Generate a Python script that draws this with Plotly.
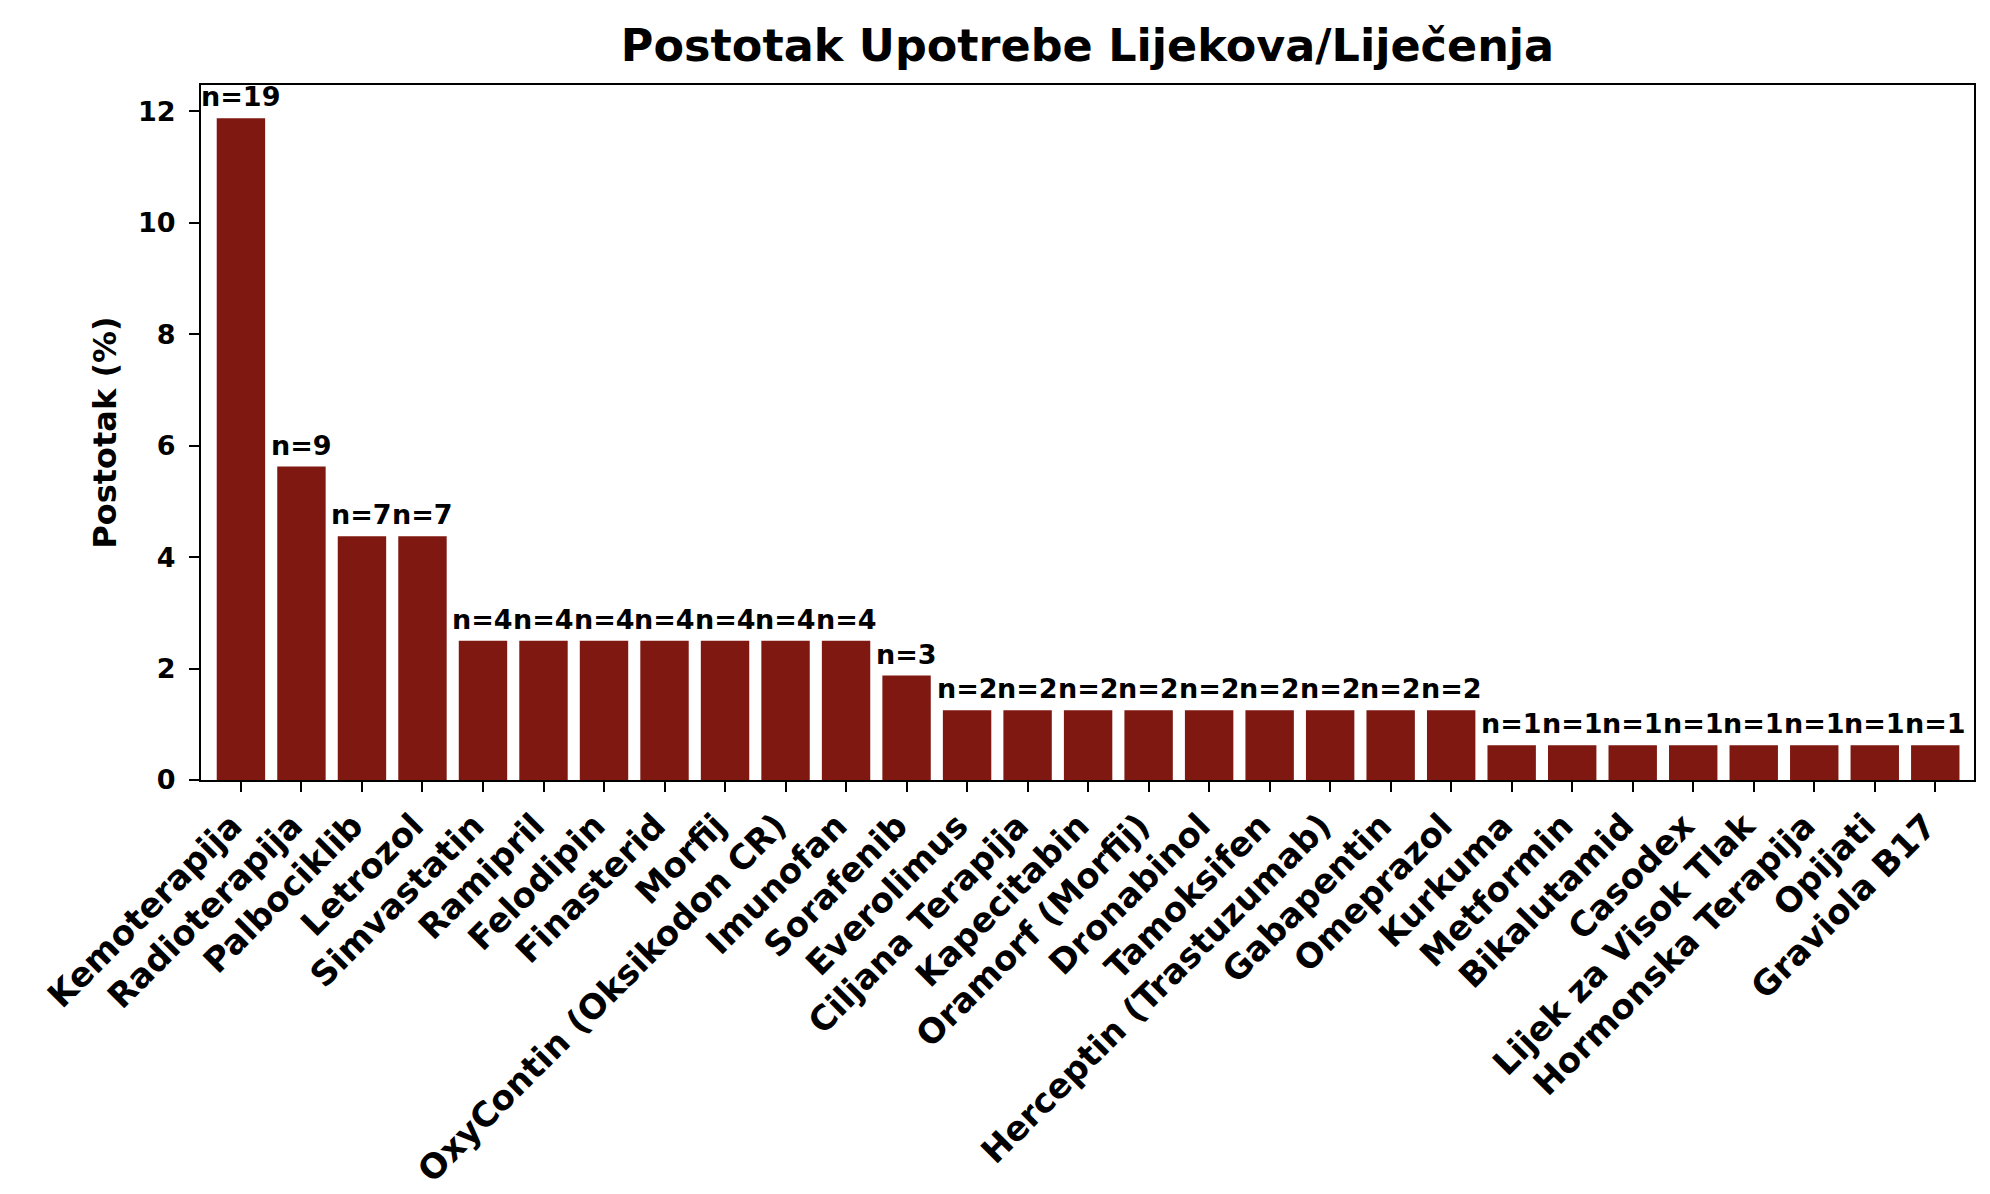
import plotly.graph_objects as go

# lijekovi / liječenja, sortirano po broju
lijekovi = [
    "Kemoterapija", "Radioterapija", "Palbociklib", "Letrozol", "Simvastatin",
    "Ramipril", "Felodipin", "Finasterid", "Morfij", "OxyContin (Oksikodon CR)",
    "Imunofan", "Sorafenib", "Everolimus", "Ciljana Terapija", "Kapecitabin",
    "Oramorf (Morfij)", "Dronabinol", "Tamoksifen", "Herceptin (Trastuzumab)",
    "Gabapentin", "Omeprazol", "Kurkuma", "Metformin", "Bikalutamid", "Casodex",
    "Lijek za Visok Tlak", "Hormonska Terapija", "Opijati", "Graviola B17",
]

broj = [19, 9, 7, 7, 4, 4, 4, 4, 4, 4, 4, 3,
        2, 2, 2, 2, 2, 2, 2, 2, 2,
        1, 1, 1, 1, 1, 1, 1, 1]

postotak = [11.875, 5.625, 4.375, 4.375, 2.5, 2.5, 2.5, 2.5, 2.5, 2.5, 2.5, 1.875,
            1.25, 1.25, 1.25, 1.25, 1.25, 1.25, 1.25, 1.25, 1.25,
            0.625, 0.625, 0.625, 0.625, 0.625, 0.625, 0.625, 0.625]

y_ticks = [0, 2, 4, 6, 8, 10, 12]

FONT = "DejaVu Sans"
BOJA = "#7f1811"

fig = go.Figure()
fig.add_trace(go.Bar(
    x=lijekovi,
    y=postotak,
    width=0.8,
    marker=dict(color=BOJA, line=dict(width=0)),
))

# oznake n=.. iznad stupaca
for naziv, p, n in zip(lijekovi, postotak, broj):
    fig.add_annotation(
        x=naziv, y=p, text=f"n={n}",
        showarrow=False, yanchor="bottom", yshift=4,
        font=dict(family=FONT, size=27, color="black", weight="bold"),
    )

fig.update_layout(
    width=1990,
    height=1194,
    plot_bgcolor="white",
    paper_bgcolor="white",
    showlegend=False,
    margin=dict(l=193, r=24, t=77, b=422),
    title=dict(
        text="Postotak Upotrebe Lijekova/Liječenja",
        x=0.5, xref="paper", xanchor="center",
        y=1 - 37 / 1194, yref="container", yanchor="middle",
        font=dict(family=FONT, size=44.5, color="black", weight="bold"),
    ),
)

fig.update_xaxes(
    type="category",
    range=[-0.66, len(lijekovi) - 1 + 0.64],
    tickangle=-45,
    ticks="outside", ticklen=10, tickwidth=2.2, tickcolor="black",
    tickfont=dict(family=FONT, size=34, color="black", weight="bold"),
    ticklabelshift=-9,
    showline=True, linecolor="black", linewidth=2.2, mirror=True,
    showgrid=False, zeroline=False,
)

fig.update_yaxes(
    range=[0, 12.47],
    tickvals=y_ticks,
    ticks="outside", ticklen=10, tickwidth=2.2, tickcolor="black",
    tickfont=dict(family=FONT, size=27, color="black", weight="bold"),
    ticklabelstandoff=8,
    showline=True, linecolor="black", linewidth=2.2, mirror=True,
    showgrid=False, zeroline=False,
    title=dict(text="Postotak (%)", standoff=12,
               font=dict(family=FONT, size=32, color="black", weight="bold")),
)

fig.write_html("out.html")
